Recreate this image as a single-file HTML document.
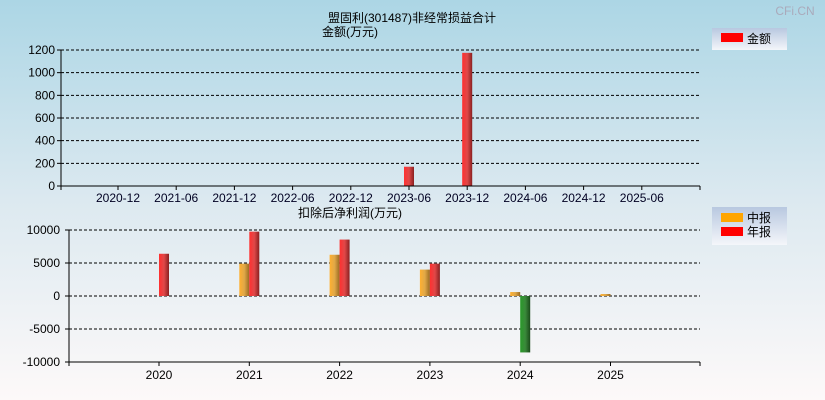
<!DOCTYPE html>
<html><head><meta charset="utf-8"><style>
html,body{margin:0;padding:0;width:825px;height:400px;overflow:hidden}
svg{display:block}
text{font-family:"Liberation Sans","Noto Sans CJK SC",sans-serif;font-size:12px}
</style></head><body>
<svg id="c" width="825" height="400">
<defs>
<linearGradient id="bg" x1="0" y1="0" x2="0" y2="1"><stop offset="0" stop-color="#acd6e5"/><stop offset="0.5" stop-color="#dce9f0"/><stop offset="1" stop-color="#fdf9f9"/></linearGradient>
<linearGradient id="gr" x1="0" x2="1"><stop offset="0" stop-color="#ff3030"/><stop offset="0.5" stop-color="#e04848"/><stop offset="1" stop-color="#8a2020"/></linearGradient>
<linearGradient id="go" x1="0" x2="1"><stop offset="0" stop-color="#ffb030"/><stop offset="0.5" stop-color="#e0a848"/><stop offset="1" stop-color="#9a6a20"/></linearGradient>
<linearGradient id="gg" x1="0" x2="1"><stop offset="0" stop-color="#2a9a2a"/><stop offset="0.5" stop-color="#3a8a3a"/><stop offset="1" stop-color="#1a4a1a"/></linearGradient>
<linearGradient id="lg" x1="0" y1="0" x2="0" y2="1"><stop offset="0" stop-color="#b8c8e0"/><stop offset="1" stop-color="#f4f6fa"/></linearGradient>
</defs>
<rect width="825" height="400" fill="url(#bg)"/>
<text x="795" y="15" font-size="13" fill="#aab" text-anchor="middle">CFi.CN</text>
<text x="412" y="22" text-anchor="middle">盟固利(301487)非经常损益合计</text>
<text x="350" y="36" text-anchor="middle">金额(万元)</text>
<text x="350" y="217" text-anchor="middle">扣除后净利润(万元)</text>
<g>
<rect x="712" y="28" width="75" height="22" fill="url(#lg)"/>
<rect x="721" y="33" width="22" height="9" fill="#ff0000"/>
<text x="747" y="43" font-size="13">金额</text>
</g>
<g>
<rect x="712" y="207" width="75" height="38" fill="url(#lg)"/>
<rect x="721" y="213" width="22" height="9" fill="#ffa500"/>
<text x="747" y="222" font-size="13">中报</text>
<rect x="721" y="227" width="22" height="9" fill="#ff0000"/>
<text x="747" y="236" font-size="13">年报</text>
</g>
<g id="top"></g><g id="bot"></g>
</svg>
<script>
const topCats=["2020-12","2021-06","2021-12","2022-06","2022-12","2023-06","2023-12","2024-06","2024-12","2025-06"];
const topVals=[null,null,null,null,null,170,1175,null,null,null];
const topTicks=[0,200,400,600,800,1000,1200];
const botCats=["2020","2021","2022","2023","2024","2025"];
const botInterim=[null,4900,6250,4000,600,300];
const botAnnual=[6400,9750,8550,4900,-8550,null];
const botTicks=[-10000,-5000,0,5000,10000];
const NS="http://www.w3.org/2000/svg";
function mk(p,t,a){const e=document.createElementNS(NS,t);for(const k in a)e.setAttribute(k,a[k]);p.appendChild(e);return e;}
// top chart
const T=document.getElementById('top');
const tx0=61,tx1=700,ty=v=>186-v*(136/1200),txc=i=>118+i*58.2;
topTicks.forEach(v=>{const y=ty(v);
 if(v>0){const l=mk(T,'line',{x1:tx0,x2:tx1,y1:y,y2:y,stroke:'#000','stroke-dasharray':'3,2'});}
 mk(T,'line',{x1:tx0-4,x2:tx0,y1:y,y2:y,stroke:'#000'});
 const t=mk(T,'text',{x:tx0-6,y:y+4,'text-anchor':'end'});t.textContent=v;
 });
topCats.forEach((c,i)=>{const x=txc(i);mk(T,'line',{x1:x,x2:x,y1:186,y2:190,stroke:'#000'});
 const t=mk(T,'text',{x:x,y:202,'text-anchor':'middle','font-size':'11',fill:'#002'});t.textContent=c;
 
 const v=topVals[i];if(v!=null){const r=mk(T,'rect',{x:x-5,y:ty(v),width:10,height:186-ty(v),fill:'url(#gr)'});
 }});
mk(T,'line',{x1:tx0,x2:tx0,y1:50,y2:190,stroke:'#000'});
mk(T,'line',{x1:tx0,x2:tx1,y1:186,y2:186,stroke:'#000'});
mk(T,'line',{x1:tx1,x2:tx1,y1:186,y2:190,stroke:'#000'});
// bottom chart
const B=document.getElementById('bot');
const bx0=69,bx1=700,by=v=>296-v*(66/10000),bxc=i=>159+i*90.3;
botTicks.forEach(v=>{const y=by(v);
 if(v>-10000){const l=mk(B,'line',{x1:bx0,x2:bx1,y1:y,y2:y,stroke:'#000','stroke-dasharray':'3,2'});}
 mk(B,'line',{x1:bx0-4,x2:bx0,y1:y,y2:y,stroke:'#000'});
 const t=mk(B,'text',{x:bx0-9,y:y+4,'text-anchor':'end'});t.textContent=v;
 });
botCats.forEach((c,i)=>{const x=bxc(i);mk(B,'line',{x1:x,x2:x,y1:362,y2:366,stroke:'#000'});
 const t=mk(B,'text',{x:x,y:379,'text-anchor':'middle'});t.textContent=c;
 
 const m=botInterim[i];if(m!=null){const y=Math.min(by(m),by(0));const r=mk(B,'rect',{x:x-10,y:y,width:10,height:Math.abs(by(m)-by(0)),fill:'url(#go)'});
  }
 const a=botAnnual[i];if(a!=null){const y=Math.min(by(a),by(0));const r=mk(B,'rect',{x:x,y:y,width:10,height:Math.abs(by(a)-by(0)),fill:a<0?'url(#gg)':'url(#gr)'});
  }});
mk(B,'line',{x1:bx0,x2:bx0,y1:230,y2:366,stroke:'#000'});
mk(B,'line',{x1:bx0,x2:bx1,y1:362,y2:362,stroke:'#000'});
mk(B,'line',{x1:bx1,x2:bx1,y1:362,y2:366,stroke:'#000'});
</script>
</body></html>
